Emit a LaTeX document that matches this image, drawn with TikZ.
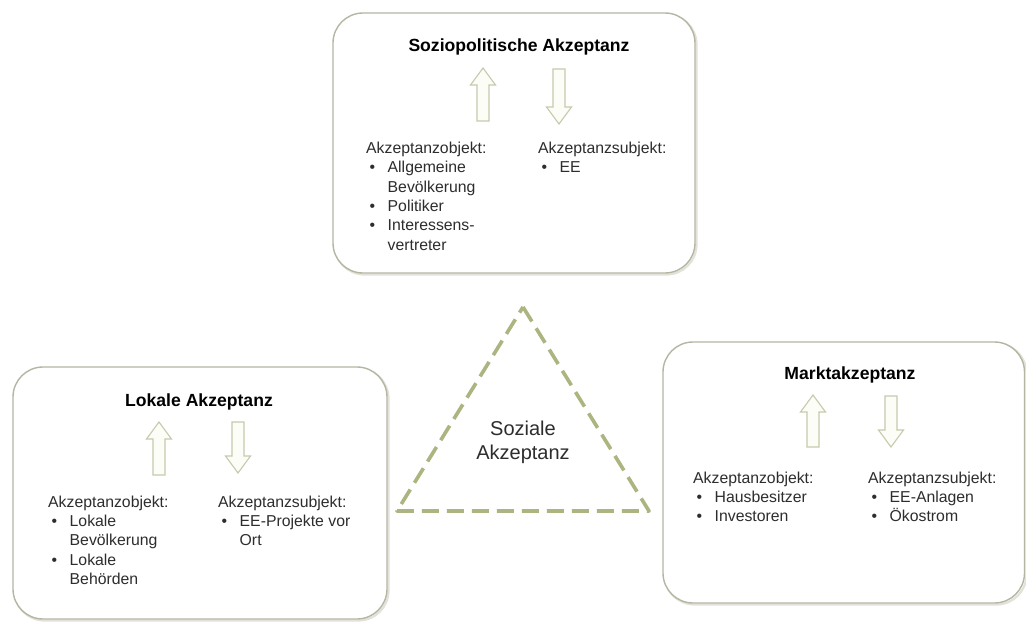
\documentclass[tikz,border=0pt]{standalone}
\usepackage{fontspec}
\setmainfont{Liberation Sans}

\definecolor{boxline}{RGB}{180,182,162}
\definecolor{boxshade}{RGB}{226,226,218}
\definecolor{flowline}{RGB}{198,202,172}
\definecolor{flowfill}{RGB}{252,253,246}
\definecolor{dashc}{RGB}{172,180,128}
\definecolor{bodytext}{RGB}{45,45,45}

% bullet and hanging indent for the list columns
\newcommand\blt{\makebox[21.5pt][l]{\hspace{3.5pt}•}}
\newcommand\lstind{\hspace*{21.5pt}}

% hollow block arrows: centre x, top y, length
\newcommand\upflow[3]{%
  \draw[flow] (#1,#2) -- (#1+12.5,#2+17) -- (#1+6,#2+17) -- (#1+6,#2+#3)
    -- (#1-6,#2+#3) -- (#1-6,#2+17) -- (#1-12.5,#2+17) -- cycle;}
\newcommand\downflow[3]{%
  \draw[flow] (#1,#2+#3) -- (#1+12.5,#2+#3-17) -- (#1+6,#2+#3-17) -- (#1+6,#2)
    -- (#1-6,#2) -- (#1-6,#2+#3-17) -- (#1-12.5,#2+#3-17) -- cycle;}

\begin{document}
\begin{tikzpicture}[x=1pt,y=-1pt,
  panel/.style={draw=boxline, line width=1.4pt, fill=white, rounded corners=30pt},
  panelshade/.style={draw=boxshade, line width=2.2pt, rounded corners=30pt},
  flow/.style={draw=flowline, fill=flowfill, line width=1.1pt, line join=miter},
  heading/.style={font=\fontsize{17.6}{21}\selectfont\bfseries, text=black,
    inner sep=0pt, anchor=base},
  column/.style={font=\fontsize{15.8}{19.3}\selectfont, text=bodytext,
    inner sep=0pt, anchor=north west, align=left},
  triangle/.style={draw=dashc, line width=3.6pt, dash pattern=on 17pt off 8pt,
    line join=round}]

\useasboundingbox (0,0) rectangle (1026,622);
\fill[white] (0,0) rectangle (1026,622);

% ---- panels ----
\draw[panelshade] (334.5,14.5) rectangle (696.5,274.5);
\draw[panel] (333,13) rectangle (695,273);
\draw[panelshade] (14.5,368.5) rectangle (388.5,620.5);
\draw[panel] (13,367) rectangle (387,619);
\draw[panelshade] (664.5,343.5) rectangle (1026.5,604.5);
\draw[panel] (663,342) rectangle (1024.5,603);

% ---- central triangle ----
\draw[triangle] (523,307) -- (649,511) -- (397,511) -- cycle;
\node[font=\fontsize{20}{24}\selectfont, text=bodytext, align=center,
  inner sep=0pt, anchor=north] (soz) at (523,418.2) {\strut Soziale\\Akzeptanz};

% ---- Soziopolitische Akzeptanz ----
\node[heading] (sp) at (519,51) {Soziopolitische Akzeptanz};
\upflow{483}{68}{53}
\downflow{559}{69}{55}
\node[column] (spobj) at (366,139.8) {\strut Akzeptanzobjekt:\\
  \blt Allgemeine\\ \lstind Bevölkerung\\ \blt Politiker\\
  \blt Interessens-\\ \lstind vertreter};
\node[column] (spsubj) at (538,139.8) {\strut Akzeptanzsubjekt:\\ \blt EE};

% ---- Lokale Akzeptanz ----
\node[heading] (lok) at (199,406) {Lokale Akzeptanz};
\upflow{159}{422}{53}
\downflow{238}{422}{51}
\node[column] (lokobj) at (48,493.5) {\strut Akzeptanzobjekt:\\
  \blt Lokale\\ \lstind Bevölkerung\\ \blt Lokale\\ \lstind Behörden};
\node[column] (loksubj) at (218,493.5) {\strut Akzeptanzsubjekt:\\
  \blt EE-Projekte vor\\ \lstind Ort};

% ---- Marktakzeptanz ----
\node[heading] (mkt) at (850,379) {Marktakzeptanz};
\upflow{813}{395}{52}
\downflow{891}{396}{51}
\node[column] (mktobj) at (693,469.5) {\strut Akzeptanzobjekt:\\
  \blt Hausbesitzer\\ \blt Investoren};
\node[column] (mktsubj) at (868,469.5) {\strut Akzeptanzsubjekt:\\
  \blt EE-Anlagen\\ \blt Ökostrom};

\end{tikzpicture}
\end{document}
